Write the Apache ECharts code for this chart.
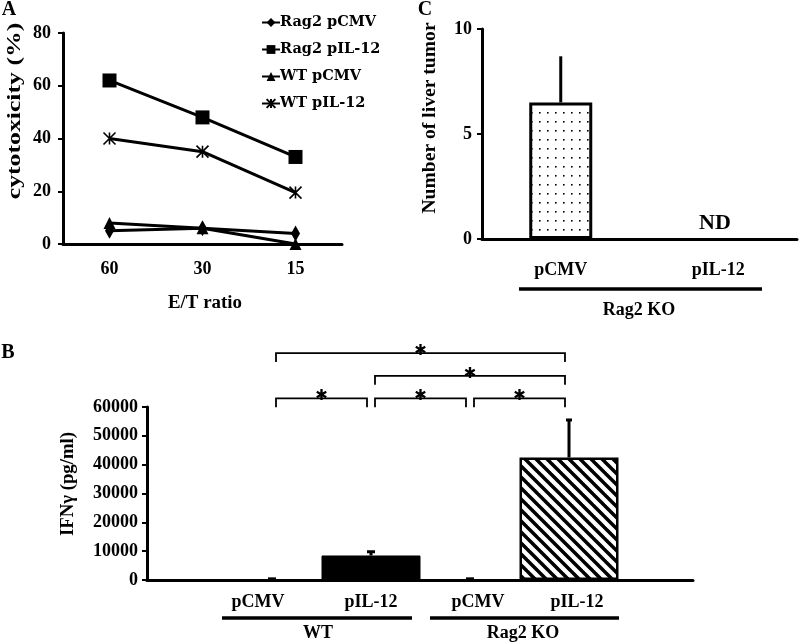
<!DOCTYPE html>
<html><head><meta charset="utf-8">
<script src="https://cdn.jsdelivr.net/npm/echarts@6/dist/echarts.min.js"></script>
<style>html,body{margin:0;padding:0;background:#fff}#c{width:800px;height:642px}</style>
</head><body><div id="c"></div>
<script>
// ---------- Panel A: cytotoxicity ----------
const etRatios = ['60', '30', '15'];
const seriesNamesA = ['Rag2 pCMV', 'Rag2 pIL-12', 'WT pCMV', 'WT pIL-12'];
const rag2pCMV = [5, 6, 4];
const rag2pIL12 = [62, 48, 33];
const wtpCMV = [8, 6, 0];
const wtpIL12 = [40, 35, 19.5];

// ---------- Panel B: IFN-gamma ----------
const ifnCategories = ['pCMV', 'pIL-12', 'pCMV', 'pIL-12'];
const ifnMeans = [0, 8500, 0, 42500];
const ifnErrTop = [400, 9800, 400, 55500];
const bracketPairs = [[0, 1], [1, 2], [2, 3], [1, 3], [0, 3]];
const bracketLevels = [63000, 63000, 63000, 70800, 78700];

// ---------- Panel C: liver tumors ----------
const tumorCategories = ['pCMV', 'pIL-12'];
const tumorMeans = [6.5, null];
const tumorErrTop = [8.7, null];

const FONT = "'Liberation Serif', 'Times New Roman', serif";
const BLACK = '#000';

function dotPattern() {
  const c = document.createElement('canvas');
  c.width = 8; c.height = 9;
  const g = c.getContext('2d');
  g.fillStyle = '#fff'; g.fillRect(0, 0, 8, 9);
  g.fillStyle = '#000'; g.fillRect(3, 4, 1.6, 1.6);
  return c;
}
function stripePattern() {
  const s = 11;
  const c = document.createElement('canvas');
  c.width = s; c.height = s;
  const g = c.getContext('2d');
  g.fillStyle = '#fff'; g.fillRect(0, 0, s, s);
  g.strokeStyle = '#000'; g.lineWidth = 3.5;
  for (const x0 of [-s, 0, s]) {
    g.beginPath(); g.moveTo(x0 - 1, -1); g.lineTo(x0 + s + 1, s + 1); g.stroke();
  }
  return c;
}

const chart = echarts.init(document.getElementById('c'), null, { renderer: 'canvas' });

const axisLineStyle = { show: true, lineStyle: { color: BLACK, width: 3 } };
const labelStyle = { color: BLACK, fontFamily: FONT, fontWeight: 'bold', fontSize: 18 };

function errRender(capW) {
  return function (params, api) {
    const x = api.value(0);
    const p0 = api.coord([x, api.value(1)]);
    const p1 = api.coord([x, api.value(2)]);
    const children = [{
      type: 'line', shape: { x1: p0[0], y1: p0[1], x2: p1[0], y2: p1[1] },
      style: { stroke: BLACK, lineWidth: 3 }
    }];
    if (capW > 0) {
      children.push({
        type: 'line', shape: { x1: p1[0] - capW / 2, y1: p1[1], x2: p1[0] + capW / 2, y2: p1[1] },
        style: { stroke: BLACK, lineWidth: 3 }
      });
    }
    return { type: 'group', children };
  };
}

function bracketRender(params, api) {
  const a = api.coord([api.value(0), api.value(2)]);
  const b = api.coord([api.value(1), api.value(2)]);
  const x1 = a[0] + 4, x2 = b[0] - 4, y = a[1], leg = 9;
  return {
    type: 'group',
    children: [
      { type: 'polyline', shape: { points: [[x1, y + leg], [x1, y], [x2, y], [x2, y + leg]] },
        style: { stroke: BLACK, lineWidth: 1.8, fill: null } },
      { type: 'text', x: (x1 + x2) / 2, y: y - 2,
        style: { text: '✱', font: 'bold 15px "DejaVu Sans"', fill: BLACK,
                 align: 'center', verticalAlign: 'middle', textAlign: 'center', textVerticalAlign: 'middle' } }
    ]
  };
}

function gText(text, x, y, size, rot, sx) {
  return {
    type: 'text', x: x, y: y, rotation: rot || 0, scaleX: sx || 1, silent: true,
    style: { text: text, font: 'bold ' + size + 'px ' + FONT, fill: BLACK,
             align: 'center', verticalAlign: 'middle', textAlign: 'center', textVerticalAlign: 'middle' }
  };
}
function gLine(x1, y1, x2, y2, w) {
  return { type: 'line', silent: true, shape: { x1, y1, x2, y2 }, style: { stroke: BLACK, lineWidth: w } };
}

const bLabelShift = { l0: [0, 28, 0, 0], l1: [0, 0, 0, 0], l2: [0, 0, 0, 16], l3: [0, 0, 0, 16] };
const bRich = {};
Object.keys(bLabelShift).forEach(k => {
  bRich[k] = { color: BLACK, fontFamily: FONT, fontWeight: 'bold', fontSize: 18, padding: bLabelShift[k] };
});

const option = {
  animation: false,
  backgroundColor: '#fff',
  grid: [
    { left: 63, top: 33, width: 279, height: 211 },
    { left: 482, top: 29, width: 315, height: 210 },
    { left: 147, top: 407, width: 546, height: 173 },
    { left: 222.5, top: 407, width: 396, height: 173 }
  ],
  xAxis: [
    { type: 'category', gridIndex: 0, data: etRatios, axisLine: axisLineStyle,
      axisTick: { length: 6, lineStyle: { color: BLACK, width: 3 } },
      axisLabel: Object.assign({ margin: 16 }, labelStyle) },
    { type: 'category', gridIndex: 1, data: tumorCategories, axisLine: axisLineStyle,
      axisTick: { inside: true, length: 6, lineStyle: { color: BLACK, width: 3 } },
      axisLabel: Object.assign({ margin: 22 }, labelStyle) },
    { type: 'value', gridIndex: 2, min: 0, max: 1, axisLine: axisLineStyle,
      axisTick: { show: false }, axisLabel: { show: false }, splitLine: { show: false } },
    { type: 'category', gridIndex: 3, data: ifnCategories, axisLine: { show: false },
      axisTick: { show: false },
      axisLabel: { margin: 13, formatter: (v, i) => '{l' + i + '|' + v + '}', rich: bRich } }
  ],
  yAxis: [
    { type: 'value', gridIndex: 0, min: 0, max: 80, interval: 20, axisLine: axisLineStyle,
      axisTick: { show: true, length: 5, lineStyle: { color: BLACK, width: 2 } },
      axisLabel: Object.assign({ margin: 12 }, labelStyle), splitLine: { show: false } },
    { type: 'value', gridIndex: 1, min: 0, max: 10, interval: 5, axisLine: axisLineStyle,
      axisTick: { show: true, length: 5, lineStyle: { color: BLACK, width: 2 } },
      axisLabel: Object.assign({ margin: 10 }, labelStyle), splitLine: { show: false } },
    { type: 'value', gridIndex: 2, min: 0, max: 60000, interval: 10000, axisLine: axisLineStyle,
      axisTick: { show: true, length: 5, lineStyle: { color: BLACK, width: 2 } },
      axisLabel: Object.assign({ margin: 9, formatter: v => String(v) }, labelStyle), splitLine: { show: false } },
    { type: 'value', gridIndex: 3, min: 0, max: 60000, show: false }
  ],
  legend: {
    data: seriesNamesA, orient: 'vertical', left: 256, top: 9,
    itemWidth: 18, itemHeight: 11, itemGap: 10,
    textStyle: { color: BLACK, fontFamily: 'DejaVu Serif', fontWeight: 'bold', fontSize: 14.5,
                 lineHeight: 17, padding: [0, 0, 0, -5] }
  },
  series: [
    { name: seriesNamesA[0], type: 'line', xAxisIndex: 0, yAxisIndex: 0, data: rag2pCMV,
      symbol: 'diamond', symbolSize: [9, 16], lineStyle: { color: BLACK, width: 3 },
      itemStyle: { color: BLACK } },
    { name: seriesNamesA[1], type: 'line', xAxisIndex: 0, yAxisIndex: 0, data: rag2pIL12,
      symbol: 'rect', symbolSize: 14, lineStyle: { color: BLACK, width: 3 },
      itemStyle: { color: BLACK } },
    { name: seriesNamesA[2], type: 'line', xAxisIndex: 0, yAxisIndex: 0, data: wtpCMV,
      symbol: 'triangle', symbolSize: 12, lineStyle: { color: BLACK, width: 3 },
      itemStyle: { color: BLACK } },
    { name: seriesNamesA[3], type: 'line', xAxisIndex: 0, yAxisIndex: 0, data: wtpIL12,
      symbol: 'path://M0,0L10,10M10,0L0,10M5,0L5,10', symbolSize: 12,
      lineStyle: { color: BLACK, width: 3 },
      itemStyle: { color: BLACK, borderColor: BLACK, borderWidth: 1.6 } },

    { type: 'bar', xAxisIndex: 1, yAxisIndex: 1, data: tumorMeans, barWidth: 63,
      itemStyle: { color: { image: dotPattern(), repeat: 'repeat' }, borderColor: BLACK, borderWidth: 3 } },
    { type: 'custom', xAxisIndex: 1, yAxisIndex: 1, renderItem: errRender(0), clip: false,
      data: tumorMeans.map((m, i) => m == null ? null : [i, m, tumorErrTop[i]]).filter(d => d) },

    { type: 'bar', xAxisIndex: 3, yAxisIndex: 3, barWidth: 99,
      data: ifnMeans.map((v, i) => ({
        value: v,
        itemStyle: i === 1 ? { color: BLACK, borderColor: BLACK, borderWidth: 1 }
          : i === 3 ? { color: { image: stripePattern(), repeat: 'repeat' }, borderColor: BLACK, borderWidth: 2.5 }
          : { color: '#fff', borderColor: BLACK, borderWidth: 2 }
      })) },
    { type: 'custom', xAxisIndex: 3, yAxisIndex: 3, renderItem: (p, api) => errRender(api.value(0) === 3 ? 6 : 8)(p, api), clip: false, z: 5,
      data: ifnMeans.map((m, i) => [i, m, ifnErrTop[i]]) },
    { type: 'custom', xAxisIndex: 3, yAxisIndex: 3, renderItem: bracketRender, clip: false,
      data: bracketPairs.map((p, i) => [p[0], p[1], bracketLevels[i]]) }
  ],
  graphic: [
    gText('A', 9, 10, 20), gText('B', 8, 353, 20), gText('C', 425, 10, 20),
    gText('cytotoxicity (%)', 15, 111, 18, Math.PI / 2, 1.43),
    gText('E/T ratio', 205, 303, 18, 0, 1.05),
    gText('Number of liver tumor', 430, 118, 18, Math.PI / 2, 1.09),
    gText('IFNγ (pg/ml)', 68, 484, 18, Math.PI / 2, 1.04),
    gText('ND', 715, 223, 22),
    gLine(519, 289, 762, 289, 3.5), gText('Rag2 KO', 639, 310, 18),
    gLine(222, 618, 412, 618, 3.5), gText('WT', 318, 633, 18),
    gLine(430, 618, 619, 618, 3.5), gText('Rag2 KO', 523, 633, 18)
  ]
};
chart.setOption(option);
</script></body></html>
